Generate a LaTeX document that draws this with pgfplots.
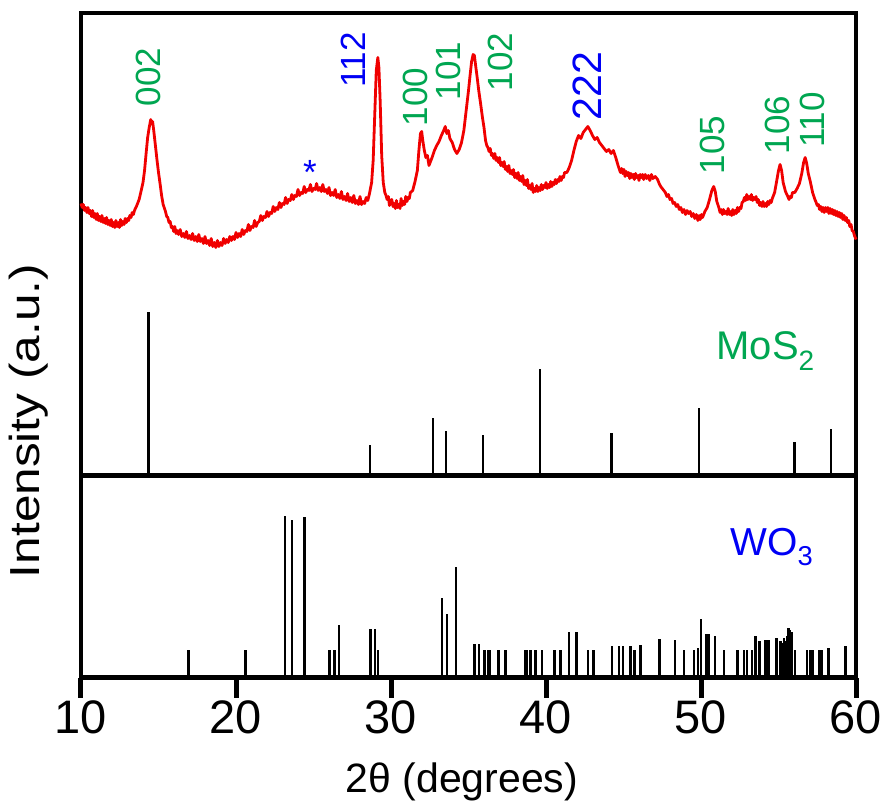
\documentclass[border=0pt]{standalone}
\usepackage{fontspec}
\setmainfont{Liberation Sans}
\usepackage{graphicx}
\usepackage{pgfplots}
\pgfplotsset{compat=1.18}
\definecolor{xgreen}{RGB}{0,166,81}
\definecolor{xblue}{RGB}{0,0,245}
\definecolor{xred}{RGB}{240,0,0}
\begin{document}
\begin{tikzpicture}
\useasboundingbox (-81pt,-129.5pt) rectangle (807pt,677.5pt);
% bottom panel: WO3 reference
\begin{axis}[at={(0pt,0pt)}, anchor=south west, scale only axis,
  width=775pt, height=202pt, xmin=10, xmax=60, ymin=0, ymax=202,
  xtick={10,20,...,60}, ytick=\empty, tick align=outside, xtick pos=bottom,
  major tick length=20pt, tick style={line width=5pt, black},
  axis line style={line width=4.5pt},
  tick label style={font=\fontsize{47}{49}\selectfont},
  /pgf/number format/assume math mode=true,
  xlabel={2θ (degrees)},
  xlabel style={font=\fontsize{41}{44}\selectfont, at={(axis description cs:0.4916,0)}, anchor=center, yshift=-104.5pt},
  clip=false]
\addplot[ycomb, line width=2.5pt, no marks, black] coordinates {
(16.95,28) (20.61,28) (23.17,162) (23.62,158) (24.42,161) (26.03,28) (26.35,28) (26.66,53)
(28.68,49) (28.98,49) (29.17,28) (33.30,80) (33.62,64) (34.20,111) (35.40,34) (35.69,34)
(36.03,28) (36.25,28) (36.37,28) (36.95,28) (37.39,28) (38.63,28) (38.79,28) (39.00,28)
(39.32,28) (39.75,28) (40.55,28) (40.94,28) (41.47,46) (41.97,46) (42.70,28) (43.08,28)
(44.27,32) (44.70,32) (44.98,32) (45.45,32) (45.71,28) (46.10,33) (47.32,39) (48.31,38)
(48.89,28) (49.54,28) (49.80,30) (50.01,59) (50.34,44) (50.50,44) (50.89,42) (51.47,28)
(52.37,28) (52.76,28) (52.98,28) (53.30,28) (53.52,42) (53.77,37) (54.16,38) (54.37,38)
(54.87,40) (55.13,37) (55.25,35) (55.34,40) (55.45,37) (55.55,42) (55.66,50) (55.75,48)
(55.83,46) (56.08,28) (56.85,28) (57.06,28) (57.24,28) (57.60,28) (57.77,28) (58.24,30)
(59.32,32)
};
\node[font=\fontsize{39}{42}\selectfont, text=xblue, anchor=base west] at (axis cs:51.68,122.5) {WO\textsubscript{3}};
\end{axis}
% top panel: measured pattern + MoS2 reference
\begin{axis}[at={(0pt,202pt)}, anchor=south west, scale only axis,
  width=775pt, height=462.5pt, xmin=10, xmax=60, ymin=0, ymax=462.5,
  xtick=\empty, ytick=\empty,
  axis line style={line width=4.5pt}, clip=false]
\addplot[ycomb, line width=2.5pt, no marks, black] coordinates {
(14.37,164) (28.63,31) (32.72,58) (33.56,45) (35.95,41) (39.60,107) (44.23,43) (49.86,68) (56.03,34) (58.40,47)
};
\addplot[xred, line width=2.8pt, no marks, line join=round] coordinates {
(10.00,272) (10.08,268) (10.15,271) (10.23,265) (10.30,268) (10.38,263) (10.45,268) (10.53,262) (10.60,265) (10.68,259) (10.75,265) (10.83,258) (10.90,262) (10.98,256) (11.05,262)
(11.13,255) (11.20,259) (11.28,254) (11.35,260) (11.43,253) (11.50,257) (11.58,252) (11.65,258) (11.73,251) (11.80,255) (11.88,250) (11.95,256) (12.03,249) (12.10,253) (12.18,248) (12.25,255)
(12.33,249) (12.40,253) (12.48,248) (12.55,256) (12.63,250) (12.70,254) (12.78,251) (12.85,257) (12.93,253) (13.00,257) (13.08,255) (13.15,260) (13.23,258) (13.30,263) (13.38,261) (13.45,265)
(13.60,270) (13.75,276) (13.90,286) (14.00,293) (14.10,305) (14.20,322) (14.30,338) (14.40,348)
(14.50,356) (14.55,352) (14.62,354) (14.70,344) (14.80,330) (14.90,316) (15.00,303) (15.10,292)
(15.20,280) (15.30,271) (15.45,264) (15.53,259) (15.60,258) (15.68,253) (15.75,254) (15.83,248) (15.90,249) (15.98,244) (16.05,249) (16.13,242) (16.20,245)
(16.30,241) (16.40,246) (16.50,239) (16.60,242) (16.70,238) (16.80,244) (16.90,237) (17.00,240) (17.10,236) (17.20,242) (17.30,235) (17.40,239) (17.50,234) (17.60,241) (17.70,234) (17.80,237)
(17.90,232) (18.00,239) (18.10,232) (18.20,235) (18.30,230) (18.40,237) (18.50,229) (18.60,233) (18.70,228) (18.80,235) (18.90,229) (19.00,233) (19.10,230) (19.20,237) (19.30,232) (19.40,236)
(19.50,233) (19.60,239) (19.70,235) (19.80,239) (19.90,236) (20.00,243) (20.10,238) (20.20,242) (20.30,239) (20.40,246) (20.50,241) (20.60,245) (20.70,244) (20.80,251) (20.90,245) (21.00,249)
(21.10,248) (21.20,255) (21.30,249) (21.40,253) (21.50,254) (21.60,260) (21.70,255) (21.80,259) (21.90,258) (22.00,264) (22.10,259) (22.20,263) (22.30,262) (22.40,269) (22.50,264) (22.60,268)
(22.70,266) (22.80,273) (22.90,268) (23.00,272) (23.10,271) (23.20,278) (23.30,272) (23.40,276) (23.50,275) (23.60,281) (23.70,276) (23.80,280) (23.90,279) (24.00,286) (24.10,280) (24.20,283)
(24.30,282) (24.40,289) (24.50,283) (24.60,286) (24.70,285) (24.80,291) (24.90,284) (25.00,287) (25.10,286) (25.20,292) (25.30,285) (25.40,288) (25.50,284) (25.60,291) (25.70,284) (25.80,286)
(25.90,282) (26.00,288) (26.10,280) (26.20,283) (26.30,280) (26.40,286) (26.50,278) (26.60,281) (26.70,277) (26.80,284) (26.90,276) (27.00,279) (27.10,275) (27.20,282) (27.30,274) (27.40,278)
(27.50,273) (27.60,280) (27.70,272) (27.80,275) (27.90,271) (28.00,279) (28.10,271) (28.20,274) (28.30,272) (28.40,278) (28.50,275) (28.60,281) (28.75,293) (28.85,315)
(28.95,360) (29.05,405) (29.15,418) (29.22,408) (29.30,375) (29.40,320) (29.50,293) (29.60,283)
(29.68,280) (29.75,276) (29.83,279) (29.90,270) (29.98,274) (30.05,276) (30.13,269) (30.20,272) (30.28,267) (30.35,275) (30.43,268) (30.50,271) (30.58,267) (30.65,277) (30.73,270) (30.80,274)
(30.88,271) (30.95,279) (31.03,274) (31.10,278) (31.18,277) (31.25,283) (31.40,285) (31.55,294) (31.70,305) (31.80,325) (31.90,342)
(31.98,344) (32.05,335) (32.15,325) (32.25,318) (32.35,320) (32.45,310) (32.55,314) (32.65,318)
(32.80,325) (32.95,330) (33.10,334) (33.25,340) (33.40,345) (33.50,349) (33.60,342) (33.70,345)
(33.80,337) (33.95,333) (34.10,326) (34.25,322) (34.40,326) (34.55,333) (34.70,345) (34.85,365)
(35.00,385) (35.10,400) (35.20,414) (35.30,421) (35.38,420) (35.46,410) (35.56,398) (35.66,385)
(35.78,372) (35.90,358) (36.00,348) (36.10,335) (36.18,330) (36.25,328) (36.33,324) (36.40,327) (36.48,320) (36.55,322) (36.63,317) (36.70,322) (36.78,315)
(36.85,318) (36.93,313) (37.00,318) (37.08,310) (37.15,313) (37.23,309) (37.30,314) (37.38,306) (37.45,309) (37.53,304) (37.60,310) (37.68,302) (37.75,305) (37.83,301) (37.90,306)
(37.98,298) (38.05,302) (38.13,297) (38.20,303) (38.28,295) (38.35,299) (38.43,294) (38.50,300) (38.58,291) (38.65,295) (38.73,290) (38.80,296) (38.88,287) (38.95,290) (39.03,286) (39.10,292)
(39.18,283) (39.25,287) (39.33,284) (39.40,290) (39.48,284) (39.55,288) (39.63,285) (39.70,291) (39.78,286) (39.85,290) (39.93,288) (40.00,293) (40.08,287) (40.15,291) (40.23,288) (40.30,294)
(40.38,289) (40.45,293) (40.53,291) (40.60,296) (40.68,292) (40.75,296) (40.83,294) (40.90,299) (40.98,295) (41.05,299) (41.13,298) (41.20,303) (41.35,303) (41.50,308)
(41.65,315) (41.80,325) (41.95,334) (42.10,340) (42.25,337) (42.40,343) (42.55,346) (42.70,349)
(42.85,345) (43.00,340) (43.15,336) (43.30,338) (43.45,333) (43.60,330) (43.75,327) (43.90,324)
(44.05,326) (44.20,322) (44.35,325) (44.50,318) (44.65,310) (44.80,303) (44.88,307) (44.95,302) (45.03,306) (45.10,299)
(45.18,304) (45.25,300) (45.33,303) (45.40,297) (45.48,302) (45.55,298) (45.63,301) (45.70,296) (45.78,302) (45.85,298) (45.93,300) (46.00,295) (46.08,301) (46.15,298) (46.23,301) (46.30,296)
(46.40,301) (46.50,297) (46.60,300) (46.70,295) (46.80,301) (46.90,297) (47.05,299) (47.20,296) (47.30,292) (47.40,289) (47.50,287) (47.60,285)
(47.70,283) (47.80,279) (47.90,281) (48.00,276) (48.10,277) (48.20,272) (48.30,273) (48.40,269) (48.50,271) (48.60,266) (48.70,268) (48.80,263) (48.90,266) (49.00,261) (49.10,265) (49.20,262)
(49.30,264) (49.40,259) (49.50,262) (49.60,257) (49.70,261) (49.80,255) (49.88,260) (49.95,256) (50.03,261) (50.10,258) (50.25,264) (50.40,268) (50.55,276) (50.70,285)
(50.82,289) (50.92,284) (51.02,274) (51.15,268) (51.23,263) (51.30,266) (51.38,261) (51.45,266) (51.53,262) (51.60,264) (51.68,261) (51.75,267) (51.83,261) (51.90,264) (51.98,260) (52.05,266)
(52.13,261) (52.20,265) (52.28,262) (52.35,268) (52.43,264) (52.50,268) (52.58,267) (52.65,273) (52.73,274) (52.80,278) (52.88,275) (52.95,281) (53.03,276) (53.10,279) (53.18,276) (53.25,281)
(53.33,275) (53.40,278) (53.48,276) (53.55,279) (53.63,273) (53.70,276) (53.78,270) (53.85,273) (53.93,269) (54.00,274) (54.08,269) (54.15,272) (54.23,269) (54.30,274) (54.38,271) (54.45,275)
(54.53,273) (54.60,277) (54.75,283) (54.90,296) (55.00,305) (55.10,311) (55.20,305)
(55.30,293) (55.45,284) (55.60,279) (55.68,276) (55.75,279) (55.83,278) (55.90,283) (56.05,283) (56.20,287) (56.35,292)
(56.50,302) (56.62,313) (56.72,318) (56.82,312) (56.92,302) (57.05,294) (57.20,283) (57.35,276)
(57.43,273) (57.50,270) (57.58,271) (57.65,266) (57.73,269) (57.80,264) (57.88,268) (57.95,263) (58.03,268) (58.10,264) (58.18,268) (58.25,262) (58.33,267) (58.40,262) (58.48,266) (58.55,261)
(58.63,265) (58.70,260) (58.78,264) (58.85,259) (58.93,263) (59.00,258) (59.08,262) (59.15,256) (59.23,260) (59.30,255) (59.38,258) (59.45,253) (59.53,255) (59.60,249)
(59.68,251) (59.75,245) (59.83,244) (59.90,240) (60.00,236)
};
\node[font=\fontsize{40}{42}\selectfont, text=xgreen, anchor=base west] at (axis cs:50.77,116) {MoS\textsubscript{2}};
\begin{scope}[every node/.style={rotate=90, anchor=center, font=\fontsize{35}{38}\selectfont}]
\node[text=xgreen] at (axis cs:14.32,398.5) {002};
\node[text=xblue]  at (axis cs:27.55,415.5) {112};
\node[text=xgreen] at (axis cs:31.55,378.5) {100};
\node[text=xgreen] at (axis cs:33.68,404.5) {101};
\node[text=xgreen] at (axis cs:37.03,413.5) {102};
\node[text=xblue, font=\fontsize{41}{44}\selectfont] at (axis cs:42.65,389.5) {222};
\node[text=xgreen] at (axis cs:50.77,330.5) {105};
\node[text=xgreen] at (axis cs:54.90,350.5) {106};
\node[text=xgreen] at (axis cs:57.16,355.5) {110};
\end{scope}
\node[text=xblue, font=\fontsize{35}{38}\selectfont, anchor=center] at (axis cs:24.77,303.5) {*};
\end{axis}
\node[rotate=90, font=\fontsize{42}{44}\selectfont] at (-52pt,256.5pt) {\scalebox{1.18}[1]{Intensity (a.u.)}};
\end{tikzpicture}
\end{document}
